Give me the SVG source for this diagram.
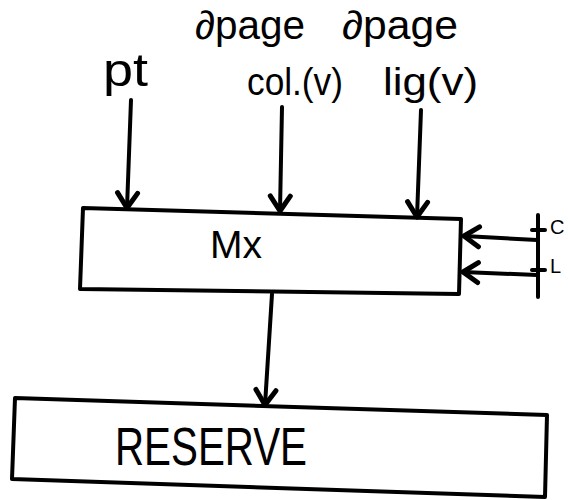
<svg xmlns="http://www.w3.org/2000/svg" width="568" height="500" viewBox="0 0 568 500">
<style>
.box{fill:none;stroke:#000;stroke-width:4;stroke-linejoin:round}
.ln{fill:none;stroke:#000;stroke-width:4;stroke-linecap:round}
.t{font-family:"Liberation Sans","DejaVu Sans",sans-serif;fill:#000}
</style>
<defs>
<marker id="ah" markerUnits="userSpaceOnUse" markerWidth="30" markerHeight="30" viewBox="-16 -12 20 24" refX="0" refY="0" orient="auto">
<path d="M-12,-8 L0,0 L-12,8" fill="none" stroke="#000" stroke-width="4" stroke-linecap="round" stroke-linejoin="round"/>
</marker>
</defs>
<rect width="568" height="500" fill="#fff"/>
<g id="labels">
<text class="t" x="195" y="39" font-size="40" textLength="110" lengthAdjust="spacingAndGlyphs">∂page</text>
<text class="t" x="342" y="39" font-size="40" textLength="116" lengthAdjust="spacingAndGlyphs">∂page</text>
<text class="t" x="247" y="95" font-size="38" textLength="96" lengthAdjust="spacingAndGlyphs">col.(v)</text>
<text class="t" x="383" y="95" font-size="38" textLength="95" lengthAdjust="spacingAndGlyphs">lig(v)</text>
<text class="t" x="103" y="86" font-size="46" textLength="45" lengthAdjust="spacingAndGlyphs">pt</text>
<text class="t" x="550" y="234" font-size="20">C</text>
<text class="t" x="550" y="273" font-size="20">L</text>
</g>
<g id="node-mx">
<polygon class="box" points="83,208 461,219 459,294 80,289"/>
<text class="t" x="210" y="258" font-size="39" textLength="52" lengthAdjust="spacingAndGlyphs">Mx</text>
</g>
<g id="node-reserve">
<polygon class="box" points="15,398 547,415 545,497 12,479"/>
<text class="t" x="115" y="465" font-size="53" textLength="192" lengthAdjust="spacingAndGlyphs">RESERVE</text>
</g>
<g id="connectors">
<line class="ln" x1="131" y1="100" x2="127" y2="208" marker-end="url(#ah)"/>
<line class="ln" x1="282" y1="107" x2="280" y2="211" marker-end="url(#ah)"/>
<line class="ln" x1="421" y1="110" x2="417" y2="217" marker-end="url(#ah)"/>
<line class="ln" x1="537" y1="240" x2="464" y2="236" marker-end="url(#ah)"/>
<line class="ln" x1="537" y1="275" x2="463" y2="272" marker-end="url(#ah)"/>
<line class="ln" x1="272" y1="294" x2="265" y2="405" marker-end="url(#ah)"/>
<line class="ln" x1="538" y1="215" x2="538" y2="297"/>
<line class="ln" x1="532" y1="230" x2="545" y2="230"/>
<line class="ln" x1="532" y1="270" x2="545" y2="270"/>
</g>
</svg>
